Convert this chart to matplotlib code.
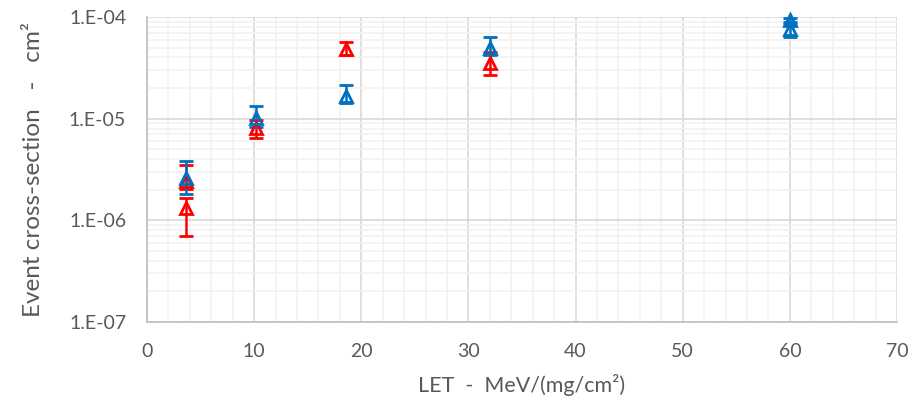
import matplotlib
matplotlib.use("Agg")
import matplotlib.pyplot as plt
from matplotlib.ticker import LogLocator, FuncFormatter, MultipleLocator
import numpy as np

# Blue series (LET, cross-section, lower / upper error bounds)
blue_let = [3.6, 10.2, 18.6, 32.0, 60.0, 60.0]
blue_xs = [2.6e-6, 1.02e-5, 1.68e-5, 5.0e-5, 9.4e-5, 7.6e-5]
blue_lo = [1.8e-6, 8.3e-6, 1.42e-5, 4.2e-5, 8.6e-5, 6.4e-5]
blue_hi = [3.85e-6, 1.32e-5, 2.15e-5, 6.3e-5, 9.8e-5, 9.0e-5]

# Red series
red_let = [3.6, 3.6, 10.2, 18.6, 32.0]
red_xs = [2.45e-6, 1.33e-6, 8.1e-6, 4.8e-5, 3.5e-5]
red_lo = [2.05e-6, 7.0e-7, 6.4e-6, 4.2e-5, 2.7e-5]
red_hi = [3.5e-6, 1.65e-6, 9.8e-6, 5.7e-5, 4.5e-5]

plt.rcParams['font.family'] = ['Lato', 'DejaVu Sans']

fig = plt.figure(figsize=(9.17, 4.09), dpi=100)
ax = fig.add_axes([147 / 917, 1 - 322 / 409, 750 / 917, 305 / 409])

ax.set_yscale('log')
ax.set_xlim(0, 70)
ax.set_ylim(1e-7, 1e-4)

ax.xaxis.set_major_locator(MultipleLocator(10))
ax.xaxis.set_minor_locator(MultipleLocator(2))
ax.yaxis.set_major_locator(LogLocator(base=10))
ax.yaxis.set_minor_locator(LogLocator(base=10, subs=np.arange(2, 10)))
ax.yaxis.set_minor_formatter(FuncFormatter(lambda v, p: ''))
ax.yaxis.set_major_formatter(FuncFormatter(lambda v, p: '1.E-%02d' % round(-np.log10(v))))

ax.grid(which='major', color='#d9d9d9', lw=1.2)
ax.grid(which='minor', color='#f2f2f2', lw=1.2)
ax.set_axisbelow(True)
for side in ['top', 'right']:
    ax.spines[side].set_visible(False)
for side in ['left', 'bottom']:
    ax.spines[side].set_color('#bfbfbf')
    ax.spines[side].set_linewidth(1.2)
ax.tick_params(which='both', length=0, labelsize=14, colors='#595959')
ax.tick_params(axis='y', pad=15)
ax.tick_params(axis='x', pad=15)


def draw(let, xs, lo, hi, color):
    yerr = [np.array(xs) - np.array(lo), np.array(hi) - np.array(xs)]
    eb = ax.errorbar(let, xs, yerr=yerr, fmt='^', color=color, ecolor=color,
                     mfc='none', mec=color, mew=2, ms=9, elinewidth=1.8,
                     capsize=5, capthick=2)
    data_line, caplines, barcols = eb.lines
    for art in [data_line] + list(caplines) + list(barcols):
        art.set_clip_on(False)


draw(red_let, red_xs, red_lo, red_hi, '#ff0000')
draw(blue_let, blue_xs, blue_lo, blue_hi, '#0070c0')

ax.set_xlabel('LET  -  MeV/(mg/cm\u00b2)', fontsize=15.5, color='#595959', labelpad=10)
ax.set_ylabel('Event cross-section   -   cm\u00b2', fontsize=17.5, color='#595959', labelpad=18)

fig.savefig('out.png', dpi=100)
